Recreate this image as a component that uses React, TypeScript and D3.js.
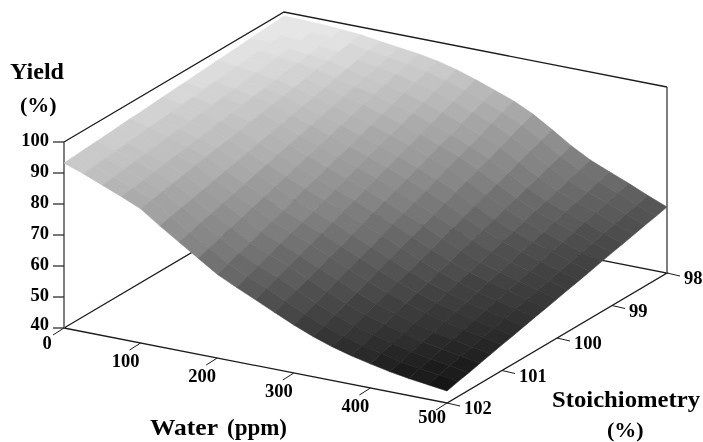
import React from "react";
import * as d3 from "d3";

const waterGrid = [0,25,50,75,100,125,150,175,200,225,250,275,300,325,350,375,400,425,450,475,500];
const stoichGrid = [102,101.8,101.6,101.4,101.2,101,100.8,100.6,100.4,100.2,100,99.8,99.6,99.4,99.2,99,98.8,98.6,98.4,98.2,98];
const yieldRows = [
[93.2,91,88.5,86,83.3,79,75,71,67,64,61.2,58.3,55.5,53,50.9,49.2,47.8,46.5,45.5,44.7,43.9],
[93.5,91.4,89.0,86.6,84.0,79.9,76.0,72.2,68.3,65.4,62.8,59.8,56.9,54.3,52.1,50.5,49.0,47.5,46.6,45.7,44.8],
[93.8,91.8,89.5,87.2,84.7,80.8,77.1,73.4,69.7,66.8,64.3,61.3,58.4,55.8,53.5,51.8,50.2,48.7,47.6,46.6,45.6],
[94.0,92.1,90.0,87.8,85.4,81.6,78.1,74.6,71.0,68.2,65.7,62.8,60.0,57.3,54.9,53.1,51.4,49.8,48.7,47.6,46.5],
[94.3,92.5,90.5,88.4,86.1,82.5,79.2,75.8,72.4,69.7,67.2,64.3,61.5,58.8,56.4,54.4,52.6,50.9,49.7,48.5,47.4],
[94.6,92.9,91.0,89.0,86.9,83.4,80.2,77.0,73.7,71.1,68.6,65.8,63.0,60.3,57.8,55.7,53.8,52.1,50.8,49.5,48.3],
[94.9,93.3,91.5,89.6,87.6,84.3,81.2,78.2,75.1,72.5,70.1,67.2,64.5,61.8,59.2,56.9,54.9,53.2,51.8,50.4,49.1],
[95.1,93.7,92.0,90.2,88.3,85.2,82.3,79.4,76.4,73.9,71.5,68.7,66.0,63.3,60.6,58.2,56.1,54.3,52.9,51.4,50.0],
[95.4,94.0,92.5,90.8,89.0,86.0,83.3,80.6,77.8,75.3,73.0,70.2,67.6,64.8,62.0,59.5,57.3,55.4,53.9,52.3,50.9],
[95.7,94.4,92.9,91.4,89.7,86.9,84.4,81.8,79.1,76.7,74.4,71.7,69.1,66.3,63.4,60.8,58.5,56.6,55.0,53.3,51.7],
[96.0,94.8,93.4,92.0,90.4,87.8,85.4,83.0,80.5,78.2,75.9,73.2,70.6,67.8,64.9,62.1,59.7,57.7,56.0,54.3,52.6],
[96.2,95.2,93.9,92.6,91.1,88.7,86.4,84.2,81.8,79.6,77.3,74.7,72.1,69.3,66.3,63.4,60.9,58.8,57.0,55.2,53.5],
[96.5,95.6,94.4,93.2,91.8,89.6,87.5,85.4,83.1,81.0,78.7,76.2,73.6,70.8,67.7,64.7,62.1,60.0,58.1,56.2,54.3],
[96.8,95.9,94.9,93.8,92.5,90.4,88.5,86.6,84.5,82.4,80.2,77.7,75.2,72.3,69.1,66.0,63.3,61.1,59.2,57.1,55.2],
[97.1,96.3,95.4,94.4,93.2,91.3,89.6,87.8,85.8,83.8,81.6,79.2,76.7,73.8,70.5,67.3,64.5,62.2,60.2,58.1,56.1],
[97.3,96.7,95.9,95.0,93.9,92.2,90.6,89.0,87.2,85.2,83.1,80.7,78.2,75.3,71.9,68.6,65.7,63.4,61.3,59.0,57.0],
[97.6,97.1,96.4,95.6,94.7,93.1,91.6,90.2,88.5,86.6,84.5,82.1,79.7,76.8,73.3,69.8,66.8,64.5,62.3,60.0,57.8],
[97.9,97.5,96.9,96.2,95.4,94.0,92.7,91.4,89.9,88.1,86.0,83.6,81.2,78.3,74.8,71.1,68.0,65.6,63.4,60.9,58.7],
[98.2,97.8,97.4,96.8,96.1,94.8,93.7,92.6,91.2,89.5,87.4,85.1,82.8,79.8,76.2,72.4,69.2,66.7,64.4,61.9,59.6],
[98.4,98.2,97.9,97.4,96.8,95.7,94.8,93.8,92.6,90.9,88.9,86.6,84.3,81.3,77.6,73.7,70.4,67.9,65.4,62.8,60.4],
[98.7,98.6,98.4,98.0,97.5,96.6,95.8,95.0,93.9,92.3,90.3,88.1,85.8,82.8,79.0,75.0,71.6,69.0,66.5,63.8,61.3],
];
const waterTicks = [0,100,200,300,400,500];
const stoichTicks = [98,99,100,101,102];
const yieldTicks = [40,50,60,70,80,90,100];

const originX = 64, originY = 328;
const wx = d3.scaleLinear().domain([0,500]).range([0,383]);
const wy = d3.scaleLinear().domain([0,500]).range([0,75]);
const sx = d3.scaleLinear().domain([102,98]).range([0,220]);
const sy = d3.scaleLinear().domain([102,98]).range([0,-130]);
const zy = d3.scaleLinear().domain([40,100]).range([0,-186]);
const shade = d3.scaleLinear<string>().domain([44,50,62,76,93,100]).range(["#141414","#2c2c2c","#565656","#8c8c8c","#cacaca","#f0f0f0"]);
const bandWidth = 0.9;

const P = (w:number,s:number,z:number):[number,number] => [originX+wx(w)+sx(s), originY+wy(w)+sy(s)+zy(z)];
const path = (pts:[number,number][]) => d3.line()(pts)!;

const serif = "'Liberation Serif', serif";
const ink = "#1c1c1c";

export default function App(){
  const cells: React.ReactNode[] = [];
  for(let k=stoichGrid.length-2;k>=0;k--){
    for(let i=0;i<waterGrid.length-1;i++){
      const a=yieldRows[k][i],b=yieldRows[k][i+1],c=yieldRows[k+1][i+1],d=yieldRows[k+1][i];
      const col=shade(Math.round(d3.mean([a,b,c,d])!/bandWidth)*bandWidth);
      cells.push(<path key={k+"-"+i} d={path([
        P(waterGrid[i],stoichGrid[k],a),
        P(waterGrid[i+1],stoichGrid[k],b),
        P(waterGrid[i+1],stoichGrid[k+1],c),
        P(waterGrid[i],stoichGrid[k+1],d)])+"Z"} fill={col} stroke={col} strokeWidth={0.6}/>);
    }
  }
  const [w0,w1]=[0,500],[s0,s1]=[102,98],[z0,z1]=[40,100];
  return (
    <svg width={703} height={442} style={{position:"absolute",left:0,top:0,background:"#fff"}} fontFamily={serif} fontWeight="bold" fill="#000">
      <defs>
        <filter id="soft" x="-5%" y="-5%" width="110%" height="110%"><feGaussianBlur stdDeviation="0.6"/></filter>
        <filter id="softText" x="-5%" y="-5%" width="110%" height="110%"><feGaussianBlur stdDeviation="0.3"/></filter>
      </defs>
      <g fill="none" stroke={ink} strokeWidth={1.3}>
        <path d={path([P(w0,s0,z0),P(w1,s0,z0),P(w1,s1,z0),P(w0,s1,z0),P(w0,s0,z0)])}/>
        <path d={path([P(w0,s0,z1),P(w0,s1,z1),P(w1,s1,z1)])}/>
      </g>
      <g fill="none" stroke="#555" strokeWidth={1.5}>
        <path d={path([P(w0,s0,z0),P(w0,s0,z1)])}/>
        <path d={path([P(w1,s1,z0),P(w1,s1,z1)])}/>
      </g>
      <g filter="url(#soft)">{cells}</g>
      <g filter="url(#softText)">
      {yieldTicks.map(t=>{const [x,y]=P(w0,s0,t);return <g key={t}>
        <line x1={x-11} x2={x} y1={y} y2={y} stroke={ink} strokeWidth={1.2}/>
        <text x={x-15} y={y-(t===40?4:2)} dy="0.33em" textAnchor="end" fontSize={18.5}>{t}</text></g>;})}
      {waterTicks.map(t=>{const [x,y]=P(t,s0,z0);return <g key={t}>
        <line x1={x} y1={y} x2={x-11} y2={y+7} stroke={ink} strokeWidth={1}/>
        <text x={x-(t===0?17:15)} y={y+(t===500?14:t===0?15:18)} dy="0.33em" textAnchor="middle" fontSize={18.5}>{t}</text></g>;})}
      {stoichTicks.map(t=>{const [x,y]=P(w1,t,z0);return <g key={t}>
        <line x1={x} y1={y} x2={x+13} y2={y+3} stroke={ink} strokeWidth={1}/>
        <text x={x+17} y={y+5} dy="0.33em" fontSize={18.5}>{t}</text></g>;})}
      <text x={10} y={79} fontSize={23} textLength={54} lengthAdjust="spacingAndGlyphs">Yield</text>
      <text x={20} y={112} fontSize={22}>(%)</text>
      <text x={150} y={435} fontSize={24} textLength={68} lengthAdjust="spacingAndGlyphs">Water</text>
      <text x={227} y={435} fontSize={23} textLength={60} lengthAdjust="spacingAndGlyphs">(ppm)</text>
      <text x={552} y={407} fontSize={24} textLength={148} lengthAdjust="spacingAndGlyphs">Stoichiometry</text>
      <text x={607} y={437} fontSize={22}>(%)</text>
      </g>
    </svg>
  );
}
